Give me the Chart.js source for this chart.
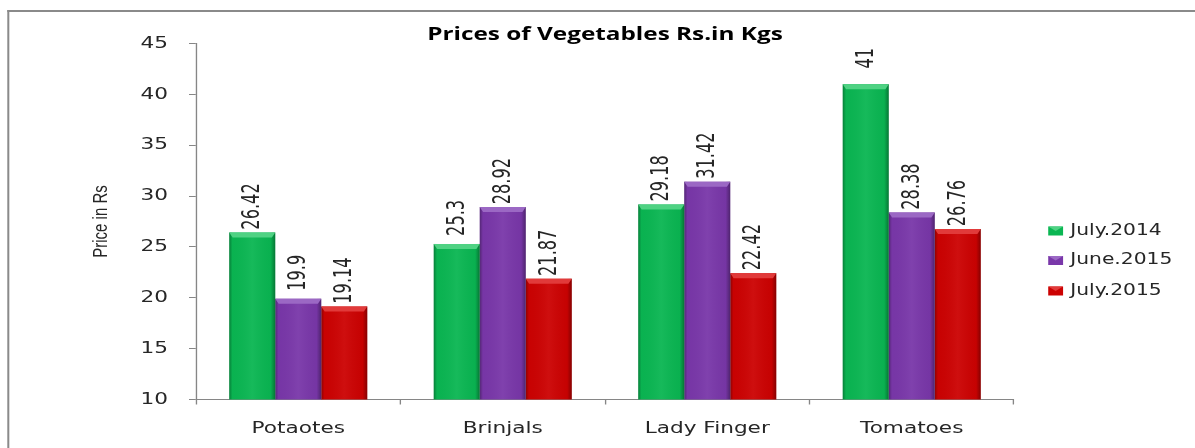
<!DOCTYPE html>
<html><head><meta charset="utf-8">
<script src="https://cdn.jsdelivr.net/npm/chart.js@4/dist/chart.umd.min.js"></script>
<style>html,body{margin:0;padding:0;background:#fff;overflow:hidden}canvas{display:block}</style>
</head><body>
<canvas id="c" width="885" height="448"></canvas>
<script>
const categories = ['Potaotes', 'Brinjals', 'Lady Finger', 'Tomatoes'];
const seriesNames = ['July.2014', 'June.2015', 'July.2015'];
const july2014 = [26.42, 25.3, 29.18, 41];
const june2015 = [19.9, 28.92, 31.42, 28.38];
const july2015 = [19.14, 21.87, 22.42, 26.76];
const yTicks = [10, 15, 20, 25, 30, 35, 40, 45];
const chartTitle = 'Prices of Vegetables Rs.in Kgs';
const yTitle = 'Price in Rs';

const W = 1195, H = 448, LW = 885, S = W / LW;
const colors = ['#0ab652', '#7937a9', '#cc0202'];
const topColors = ['#4fd283', '#9b68c4', '#e13a3a'];
const TXT = '#262626';

const stretchPlugin = {
  id: 'stretch',
  beforeDraw(chart) {
    const ctx = chart.ctx;
    ctx.setTransform(S, 0, 0, 1, 0, 0);
    ctx.save();
    ctx.fillStyle = '#fff';
    ctx.fillRect(0, 0, LW, H);
    ctx.strokeStyle = '#8a8a8a';
    ctx.lineWidth = 2;
    ctx.beginPath(); ctx.moveTo(5.4, 11); ctx.lineTo(LW, 11); ctx.stroke();
    ctx.lineWidth = 1.5;
    ctx.beginPath(); ctx.moveTo(6.15, 10); ctx.lineTo(6.15, H); ctx.stroke();
    ctx.restore();
  }
};

const bevelPlugin = {
  id: 'bevel',
  afterDatasetsDraw(chart) {
    const ctx = chart.ctx;
    const area = chart.chartArea;
    chart.data.datasets.forEach((ds, di) => {
      const meta = chart.getDatasetMeta(di);
      meta.data.forEach((bar) => {
        const l = bar.x - bar.width / 2, r = bar.x + bar.width / 2;
        const t = bar.y, b = Math.min(bar.base, area.bottom);
        ctx.save();
        ctx.beginPath();
        ctx.rect(area.left, area.top - 2, area.right - area.left, area.bottom - area.top + 2);
        ctx.clip();
        const g = ctx.createLinearGradient(l, 0, r, 0);
        g.addColorStop(0, 'rgba(0,0,0,0.30)');
        g.addColorStop(0.07, 'rgba(0,0,0,0.02)');
        g.addColorStop(0.5, 'rgba(255,255,255,0.05)');
        g.addColorStop(0.9, 'rgba(0,0,0,0.03)');
        g.addColorStop(1, 'rgba(0,0,0,0.35)');
        ctx.fillStyle = g;
        ctx.fillRect(l, t, r - l, b - t);
        ctx.fillStyle = topColors[di];
        ctx.beginPath();
        ctx.moveTo(l, t); ctx.lineTo(r, t); ctx.lineTo(r - 2.5, t + 5); ctx.lineTo(l + 2.5, t + 5);
        ctx.closePath(); ctx.fill();
        ctx.restore();
      });
    });
  }
};

const labelPlugin = {
  id: 'vlabels',
  afterDatasetsDraw(chart) {
    const ctx = chart.ctx;
    chart.data.datasets.forEach((ds, di) => {
      const meta = chart.getDatasetMeta(di);
      meta.data.forEach((bar, i) => {
        ctx.save();
        ctx.translate(bar.x + 0.5, bar.y - 26);
        ctx.rotate(-Math.PI / 2);
        ctx.font = '18px "Liberation Sans Narrow", "DejaVu Sans Condensed", sans-serif';
        ctx.fillStyle = TXT;
        ctx.textAlign = 'center';
        ctx.textBaseline = 'middle';
        ctx.fillText(String(ds.data[i]), 0, 0);
        ctx.restore();
      });
    });
  }
};

const legendPlugin = {
  id: 'sideLegend',
  afterDraw(chart) {
    const ctx = chart.ctx;
    const rows = [231, 260.5, 291];
    chart.data.datasets.forEach((ds, di) => {
      const y = rows[di];
      ctx.save();
      ctx.fillStyle = colors[di];
      ctx.fillRect(776.3, y - 4.5, 11, 9);
      ctx.fillStyle = topColors[di];
      ctx.beginPath();
      ctx.moveTo(776.3, y - 4.5); ctx.lineTo(787.3, y - 4.5); ctx.lineTo(781.8, y); ctx.closePath(); ctx.fill();
      ctx.font = '15px "DejaVu Sans", sans-serif';
      ctx.fillStyle = TXT;
      ctx.textAlign = 'left';
      ctx.textBaseline = 'middle';
      ctx.fillText(ds.label, 792.6, y);
      ctx.restore();
    });
  }
};

const datasets = [july2014, june2015, july2015].map((arr, i) => ({
  label: seriesNames[i],
  data: arr,
  backgroundColor: colors[i],
  borderWidth: 0,
  categoryPercentage: 0.675,
  barPercentage: 1.0
}));

const canvas = document.getElementById('c');
const chart = new Chart(canvas, {
  type: 'bar',
  data: { labels: categories, datasets },
  plugins: [stretchPlugin, bevelPlugin, labelPlugin, legendPlugin],
  options: {
    responsive: false,
    animation: false,
    devicePixelRatio: 1,
    layout: { padding: { left: 0, right: LW - 1014 / S, top: 0, bottom: 0 } },
    plugins: {
      legend: { display: false },
      tooltip: { enabled: false },
      title: {
        display: true,
        text: chartTitle,
        fullSize: false,
        color: '#000',
        font: { family: '"Open Sans", sans-serif', size: 18, weight: 'bold', lineHeight: 1.2 },
        padding: { top: 23.7, bottom: -1.8 }
      }
    },
    scales: {
      x: {
        border: { color: '#868686', width: 1 },
        grid: { drawOnChartArea: false, tickLength: 5, color: '#868686', offset: true },
        ticks: { font: { family: '"DejaVu Sans", sans-serif', size: 16 }, color: TXT, padding: 15 },
        afterFit(s) { s.height = 48.5; }
      },
      y: {
        min: 10, max: 45,
        border: { color: '#868686', width: 1 },
        grid: { drawOnChartArea: false, tickLength: 5.2, color: '#868686' },
        ticks: { stepSize: 5, font: { family: '"DejaVu Sans", sans-serif', size: 16 }, color: TXT, padding: 15.6 },
        afterBuildTicks(s) { s.ticks = yTicks.map(v => ({ value: v })); },
        title: {
          display: true, text: yTitle, color: TXT,
          font: { family: '"Liberation Sans", sans-serif', size: 15, lineHeight: 1.2 },
          padding: { top: 65.8, bottom: 0 }
        },
        afterFit(s) { s.width = 196 / S; }
      }
    }
  }
});

canvas.width = W;
canvas.height = H;
canvas.style.width = W + 'px';
canvas.style.height = H + 'px';
chart.draw();
</script>
</body></html>
